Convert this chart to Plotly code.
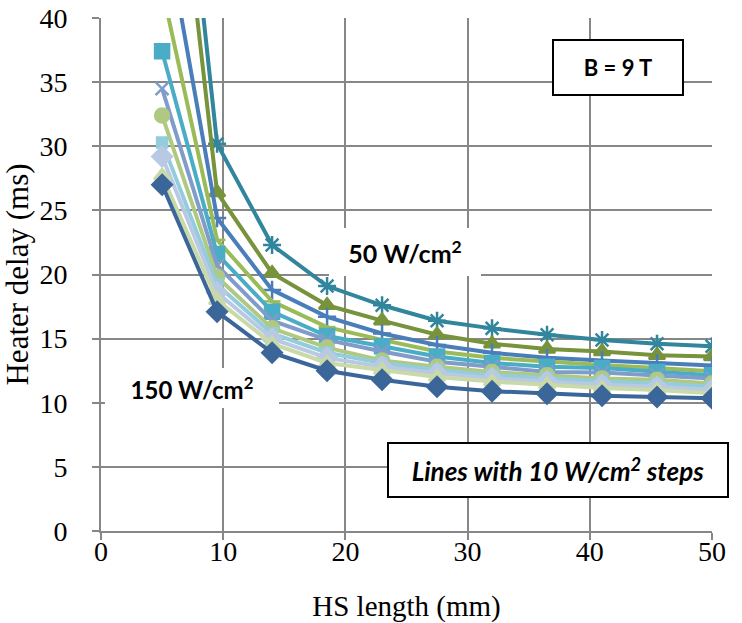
import plotly.graph_objects as go

# Heater-station length (mm)
hs_length = [5, 9.5, 14, 18.5, 23, 27.5, 32, 36.5, 41, 45.5, 50]

# Heater delay (ms) for each heater power density (W/cm^2), B = 9 T
delay_50 = [70.0, 30.2, 22.3, 19.1, 17.6, 16.4, 15.8, 15.3, 14.9, 14.6, 14.4]
delay_60 = [64.0, 26.4, 20.1, 17.6, 16.4, 15.3, 14.6, 14.2, 14.0, 13.7, 13.6]
delay_70 = [48.5, 24.4, 18.8, 16.7, 15.4, 14.5, 13.9, 13.5, 13.3, 13.1, 12.9]
delay_80 = [42.3, 22.7, 17.9, 15.9, 14.9, 14.0, 13.5, 13.2, 12.95, 12.7, 12.45]
delay_90 = [37.4, 21.6, 17.1, 15.2, 14.4, 13.6, 13.1, 12.8, 12.7, 12.4, 12.15]
delay_100 = [34.5, 20.7, 16.4, 14.9, 14.0, 13.2, 12.8, 12.4, 12.35, 12.15, 11.9]
delay_110 = [32.4, 19.8, 15.8, 14.3, 13.3, 12.8, 12.4, 12.15, 11.9, 11.8, 11.5]
delay_120 = [30.3, 19.2, 15.4, 13.9, 13.1, 12.55, 12.15, 11.9, 11.65, 11.5, 11.25]
delay_130 = [29.2, 18.6, 15.0, 13.5, 12.8, 12.3, 11.9, 11.65, 11.4, 11.25, 11.0]
delay_140 = [27.7, 18.0, 14.6, 13.1, 12.55, 12.0, 11.65, 11.4, 11.15, 11.0, 10.75]
delay_150 = [27.0, 17.1, 13.9, 12.5, 11.8, 11.25, 10.9, 10.7, 10.55, 10.45, 10.35]

x_ticks = [0, 10, 20, 30, 40, 50]
y_ticks = [0, 5, 10, 15, 20, 25, 30, 35, 40]

series = [
    ("50", delay_50, "#31859C", "asterisk-open", 15),
    ("60", delay_60, "#77933C", "triangle-up", 14),
    ("70", delay_70, "#4A7EBB", "cross-thin-open", 13),
    ("80", delay_80, "#9BBB59", "line-ew-open", 12),
    ("90", delay_90, "#4BACC6", "square", 14),
    ("100", delay_100, "#7F9CCB", "x-thin-open", 13),
    ("110", delay_110, "#B0C982", "circle", 14),
    ("120", delay_120, "#93CDDD", "square", 10),
    ("130", delay_130, "#B9C9E3", "diamond", 15),
    ("140", delay_140, "#C9DAA8", "triangle-up", 14),
    ("150", delay_150, "#3B6699", "diamond", 15),
]

fig = go.Figure()
for name, vals, color, symbol, size in series:
    fig.add_trace(go.Scatter(
        x=hs_length, y=vals, mode="lines+markers", name=f"{name} W/cm²",
        line=dict(color=color, width=4),
        marker=dict(symbol=symbol, size=size, color=color,
                    line=dict(color=color, width=2.5)),
    ))

tick_font = dict(family="Liberation Serif", size=28, color="black")
grid_color = "#878787"

fig.update_xaxes(
    range=[0, 50], tickvals=x_ticks, ticktext=[str(v) for v in x_ticks],
    showgrid=True, gridcolor=grid_color, gridwidth=2,
    showline=True, linecolor=grid_color, linewidth=2,
    ticks="outside", ticklen=7, tickcolor=grid_color, tickwidth=2,
    tickfont=tick_font, zeroline=False, automargin=False,
    ticklabelstandoff=-13,
    title=dict(text="HS length (mm)",
               font=dict(family="Liberation Serif", size=29, color="black"),
               standoff=34),
)
fig.update_yaxes(
    range=[0, 40], tickvals=y_ticks, ticktext=[str(v) for v in y_ticks],
    showgrid=True, gridcolor=grid_color, gridwidth=2,
    showline=True, linecolor=grid_color, linewidth=2,
    ticks="outside", ticklen=7, tickcolor=grid_color, tickwidth=2,
    tickfont=tick_font, zeroline=False, automargin=False,
    ticklabelstandoff=19,
    title=dict(text="Heater delay (ms)",
               font=dict(family="Liberation Serif", size=31, color="black"),
               standoff=3),
)

# Text boxes, positioned in pixels and converted to domain fractions below
boxes = [
    dict(x=618, y=67, text="<b>B = 9 T</b>", size=22,
         border=2, w=126, h=51),
    dict(x=405, y=252, text="<b>50 W/cm<sup>2</sup></b>", size=25,
         border=0, w=150, h=46),
    dict(x=192, y=388, text="<b>150 W/cm<sup>2</sup></b>", size=24,
         border=0, w=172, h=38),
    dict(x=558, y=470, text="<b><i>Lines with 10 W/cm<sup>2</sup> steps</i></b>",
         size=26, border=2, w=336, h=50),
]

L_M, R_M, T_M, B_M = 101, 30, 18, 92
W, H = 742, 623
pw, ph = W - L_M - R_M, H - T_M - B_M
for b in boxes:
    fig.add_annotation(
        x=(b["x"] - L_M) / pw, y=1 - (b["y"] - T_M) / ph,
        xref="x domain", yref="y domain", xanchor="center", yanchor="middle",
        showarrow=False, text=b["text"],
        font=dict(family="Lato", size=b["size"], color="black"),
        bgcolor="white", bordercolor="black", borderwidth=b["border"],
        width=b["w"], height=b["h"],
    )

fig.update_layout(
    width=W, height=H, showlegend=False,
    margin=dict(l=L_M, r=R_M, t=T_M, b=B_M),
    plot_bgcolor="white", paper_bgcolor="white",
)

fig.write_html("out.html")
